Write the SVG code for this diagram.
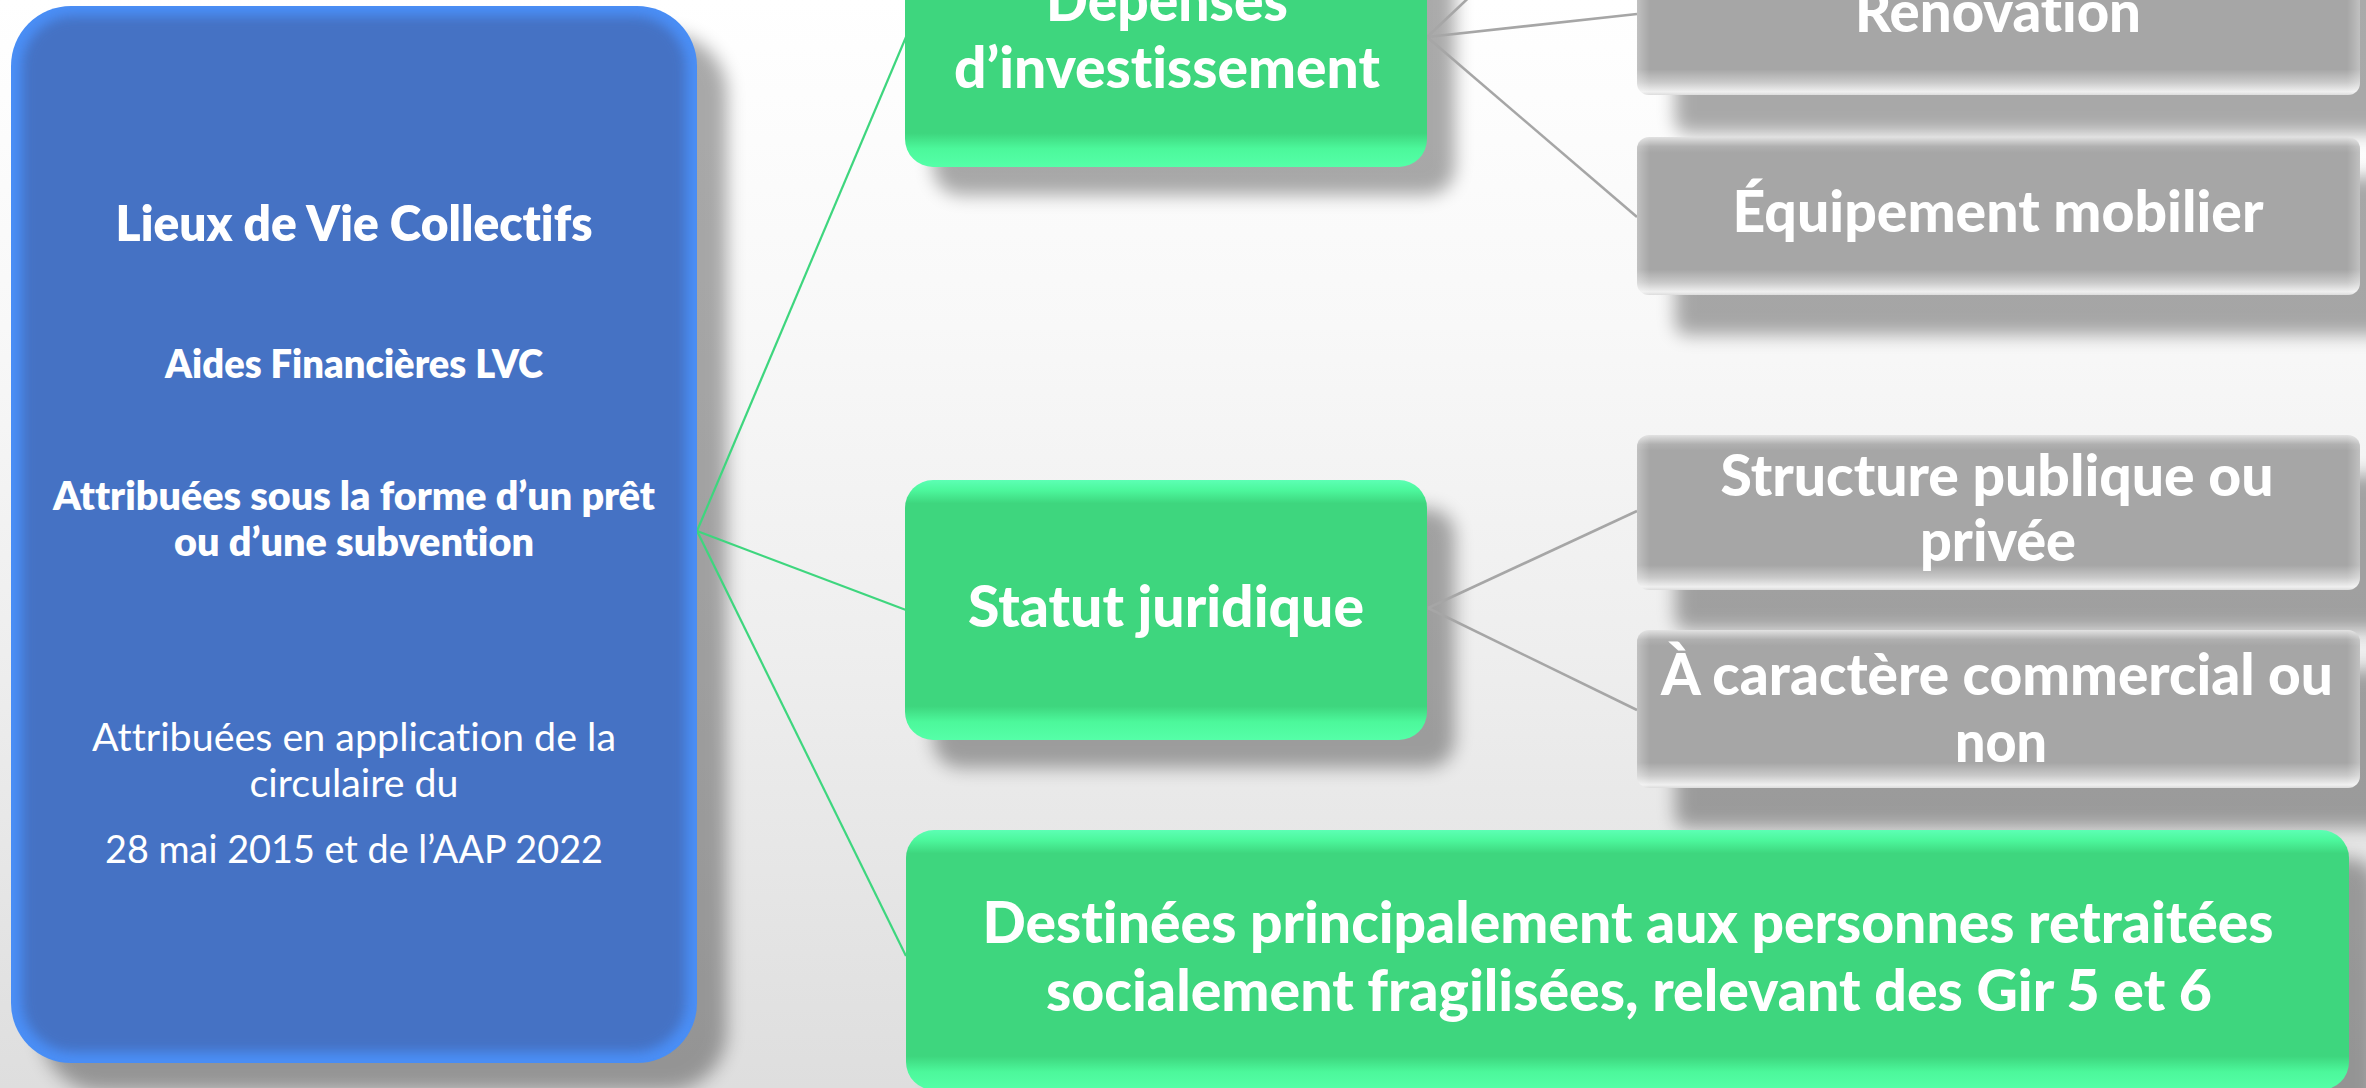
<svg xmlns="http://www.w3.org/2000/svg" width="2366" height="1088" viewBox="0 0 2366 1088">
<defs>
<linearGradient id="bg" x1="0" y1="0" x2="0" y2="1">
<stop offset="0" stop-color="#ffffff"/><stop offset="0.3" stop-color="#f8f8f8"/><stop offset="0.6" stop-color="#eeeeee"/><stop offset="1" stop-color="#dedede"/>
</linearGradient>
<linearGradient id="gGreen" x1="0" y1="0" x2="0" y2="1">
<stop offset="0" stop-color="#5cffb4"/><stop offset="0.04" stop-color="#4cf79c"/><stop offset="0.09" stop-color="#3ed67e"/><stop offset="0.87" stop-color="#3ed67e"/><stop offset="0.93" stop-color="#4cf89b"/><stop offset="1" stop-color="#55ffa8"/>
</linearGradient>
<linearGradient id="gGray" x1="0" y1="0" x2="0" y2="1">
<stop offset="0" stop-color="#e2e2e2"/><stop offset="0.06" stop-color="#b0b0b0"/><stop offset="0.1" stop-color="#a6a6a6"/><stop offset="0.84" stop-color="#a6a6a6"/><stop offset="0.92" stop-color="#c9c9c9"/><stop offset="0.98" stop-color="#f0f0f0"/><stop offset="1" stop-color="#dcdcdc"/>
</linearGradient>
<linearGradient id="gSide" x1="0" y1="0" x2="1" y2="0">
<stop offset="0" stop-color="#ffffff" stop-opacity="0.3"/><stop offset="0.018" stop-color="#ffffff" stop-opacity="0"/><stop offset="0.982" stop-color="#ffffff" stop-opacity="0"/><stop offset="1" stop-color="#ffffff" stop-opacity="0.3"/>
</linearGradient>
<filter id="blurSh" x="-20%" y="-30%" width="140%" height="160%"><feGaussianBlur stdDeviation="9"/></filter>
<filter id="blurIn" x="-5%" y="-5%" width="110%" height="110%"><feGaussianBlur stdDeviation="6"/></filter>
<clipPath id="cpBlue"><rect x="11" y="6" width="686" height="1057" rx="60"/></clipPath>
<style>
.sh{fill:#000;opacity:0.33;filter:url(#blurSh)}
.green{fill:url(#gGreen)}
.gray{fill:url(#gGray)}
.side{fill:url(#gSide)}
.t{fill:#fff;font-family:Lato,"Open Sans","Liberation Sans",sans-serif;text-anchor:middle;font-weight:800;font-variant-ligatures:none;font-feature-settings:"liga" 0,"clig" 0}
.big{font-size:57px;font-weight:900}
.reg{font-weight:400}
.cg{stroke:#3ed67e;stroke-width:2.2;fill:none}
.cy{stroke:#a6a6a6;stroke-width:2.6;fill:none}
</style>
</defs>
<rect x="0" y="0" width="2366" height="1088" fill="url(#bg)"/>
<g id="shadows">
<rect class="sh" x="41" y="34" width="686" height="1057" rx="60"/>
<rect class="sh" x="933" y="-65" width="522" height="260" rx="28"/>
<rect class="sh" x="933" y="508" width="522" height="260" rx="28"/>
<rect class="sh" x="934" y="858" width="1443" height="260" rx="28"/>
<rect class="sh" x="1675" y="-27" width="723" height="160" rx="12"/>
<rect class="sh" x="1675" y="177" width="723" height="158" rx="12"/>
<rect class="sh" x="1675" y="475" width="723" height="155" rx="12"/>
<rect class="sh" x="1675" y="670" width="723" height="158" rx="12"/>
</g>
<g id="connectors">
<line class="cg" x1="697" y1="531" x2="906" y2="37"/>
<line class="cg" x1="697" y1="531" x2="906" y2="610"/>
<line class="cg" x1="697" y1="531" x2="906" y2="956"/>
<line class="cy" x1="1427" y1="37" x2="1637" y2="-161"/>
<line class="cy" x1="1427" y1="37" x2="1637" y2="14"/>
<line class="cy" x1="1427" y1="37" x2="1637" y2="217"/>
<line class="cy" x1="1428" y1="608" x2="1637" y2="511"/>
<line class="cy" x1="1428" y1="608" x2="1637" y2="710"/>
</g>
<g id="lvc">
<g clip-path="url(#cpBlue)">
<rect x="11" y="6" width="686" height="1057" fill="#4a8ef6"/>
<rect x="22" y="16" width="664" height="1036" rx="52" fill="#4472c4" filter="url(#blurIn)"/>
</g>
<text class="t" x="354" y="241" font-size="50" textLength="477" lengthAdjust="spacingAndGlyphs">Lieux de Vie Collectifs</text>
<text class="t" x="354" y="378" font-size="39" textLength="378" lengthAdjust="spacingAndGlyphs">Aides Financières LVC</text>
<text class="t" x="354" y="510" font-size="39" textLength="602" lengthAdjust="spacingAndGlyphs">Attribuées sous la forme d’un prêt</text>
<text class="t" x="354" y="556" font-size="39" textLength="360" lengthAdjust="spacingAndGlyphs">ou d’une subvention</text>
<text class="t reg" x="354" y="751" font-size="39" textLength="524" lengthAdjust="spacingAndGlyphs">Attribuées en application de la</text>
<text class="t reg" x="354" y="797" font-size="39" textLength="209" lengthAdjust="spacingAndGlyphs">circulaire du</text>
<text class="t reg" x="354" y="863" font-size="39" textLength="498" lengthAdjust="spacingAndGlyphs">28 mai 2015 et de l’AAP 2022</text>
</g>
<g id="depenses">
<rect class="green" x="905" y="-93" width="522" height="260" rx="28"/>
<text class="t big" x="1167" y="21" textLength="242" lengthAdjust="spacingAndGlyphs">Dépenses</text>
<text class="t big" x="1167" y="88" textLength="426" lengthAdjust="spacingAndGlyphs">d’investissement</text>
</g>
<g id="statut">
<rect class="green" x="905" y="480" width="522" height="260" rx="28"/>
<text class="t big" x="1166" y="627" textLength="396" lengthAdjust="spacingAndGlyphs">Statut juridique</text>
</g>
<g id="destinees">
<rect class="green" x="906" y="830" width="1443" height="260" rx="28"/>
<text class="t big" x="1628" y="943" textLength="1291" lengthAdjust="spacingAndGlyphs">Destinées principalement aux personnes retraitées</text>
<text class="t big" x="1629" y="1011" textLength="1166" lengthAdjust="spacingAndGlyphs">socialement fragilisées, relevant des Gir 5 et 6</text>
</g>
<g id="renovation">
<rect class="gray" x="1637" y="-65" width="723" height="160" rx="12"/>
<rect class="side" x="1637" y="-65" width="723" height="160" rx="12"/>
<text class="t big" x="1998" y="32" textLength="286" lengthAdjust="spacingAndGlyphs">Rénovation</text>
</g>
<g id="equipement">
<rect class="gray" x="1637" y="137" width="723" height="158" rx="12"/>
<rect class="side" x="1637" y="137" width="723" height="158" rx="12"/>
<text class="t big" x="1998" y="232" textLength="531" lengthAdjust="spacingAndGlyphs">Équipement mobilier</text>
</g>
<g id="structure">
<rect class="gray" x="1637" y="435" width="723" height="155" rx="12"/>
<rect class="side" x="1637" y="435" width="723" height="155" rx="12"/>
<text class="t big" x="1997" y="496" textLength="553" lengthAdjust="spacingAndGlyphs">Structure publique ou</text>
<text class="t big" x="1998" y="561" textLength="156" lengthAdjust="spacingAndGlyphs">privée</text>
</g>
<g id="caractere">
<rect class="gray" x="1637" y="630" width="723" height="158" rx="12"/>
<rect class="side" x="1637" y="630" width="723" height="158" rx="12"/>
<text class="t big" x="1997" y="695" textLength="672" lengthAdjust="spacingAndGlyphs">À caractère commercial ou</text>
<text class="t big" x="2001" y="762" textLength="92" lengthAdjust="spacingAndGlyphs">non</text>
</g>
</svg>
